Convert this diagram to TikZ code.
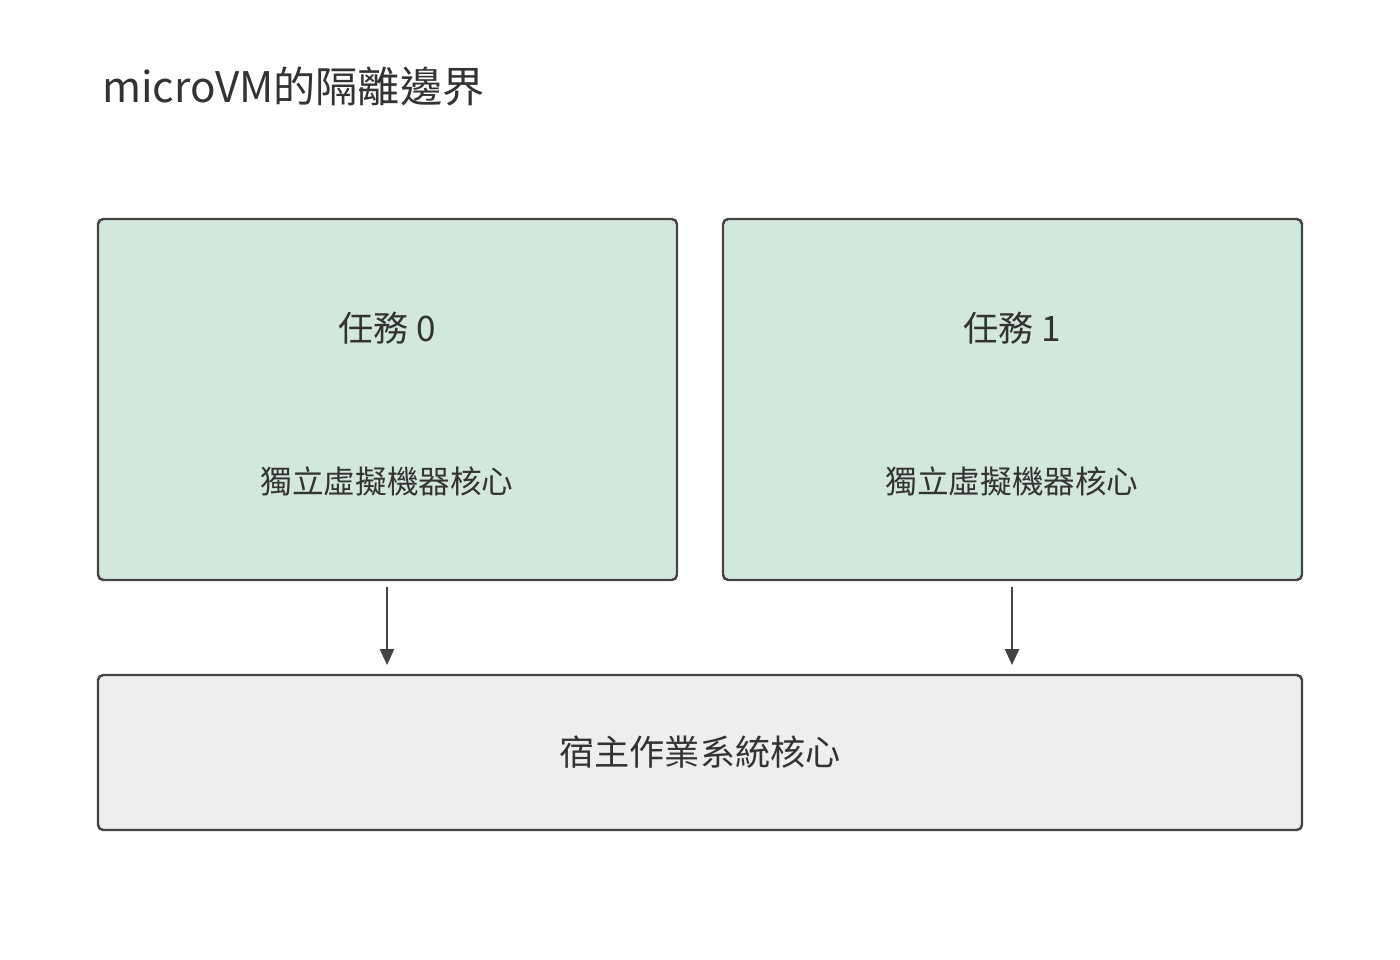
\documentclass[tikz,border=0pt]{standalone}
\usepackage{fontspec}
\setmainfont{Noto Sans CJK TC}
\usepackage{tikz}
\usetikzlibrary{arrows.meta,positioning}
\definecolor{vmgreen}{RGB}{210,232,220}
\definecolor{hostgray}{RGB}{238,238,238}
\definecolor{edgegray}{RGB}{68,68,68}
\definecolor{txtgray}{RGB}{51,51,51}

\begin{document}
\begin{tikzpicture}[
  x=0.02cm, y=-0.02cm,
  box/.style={draw=edgegray, line width=1.4pt, rounded corners=3pt},
  vm/.style={box, fill=vmgreen},
  host/.style={box, fill=hostgray},
  lbl/.style={text=txtgray, inner sep=0pt, anchor=center},
  arr/.style={-{Triangle[length=9pt,width=8pt]}, draw=edgegray, line width=1.1pt},
]
  \useasboundingbox (0,0) rectangle (1400,960);

  % Title
  \node[lbl, anchor=west, font=\fontsize{24}{28}\selectfont] (title) at (102,87) {microVM的隔離邊界};

  % VM boxes
  \draw[vm] (98,219) rectangle (677,580);
  \draw[vm] (723,219) rectangle (1302,580);
  \node[lbl, font=\fontsize{20}{24}\selectfont] (task0) at (387,328) {任務 0};
  \node[lbl, font=\fontsize{18}{22}\selectfont] (kern0) at (387,481) {獨立虛擬機器核心};
  \node[lbl, font=\fontsize{20}{24}\selectfont] (task1) at (1012,328) {任務 1};
  \node[lbl, font=\fontsize{18}{22}\selectfont] (kern1) at (1012,481) {獨立虛擬機器核心};

  % Host
  \draw[host] (98,675) rectangle (1302,830);
  \node[lbl, font=\fontsize{20}{24}\selectfont] (hostk) at (700,752) {宿主作業系統核心};

  % Arrows
  \coordinate (vm0) at (387,587);
  \coordinate (vm1) at (1012,587);
  \coordinate (h0) at (387,665);
  \coordinate (h1) at (1012,665);
  \draw[arr] (vm0) -- (h0);
  \draw[arr] (vm1) -- (h1);
\end{tikzpicture}
\end{document}
